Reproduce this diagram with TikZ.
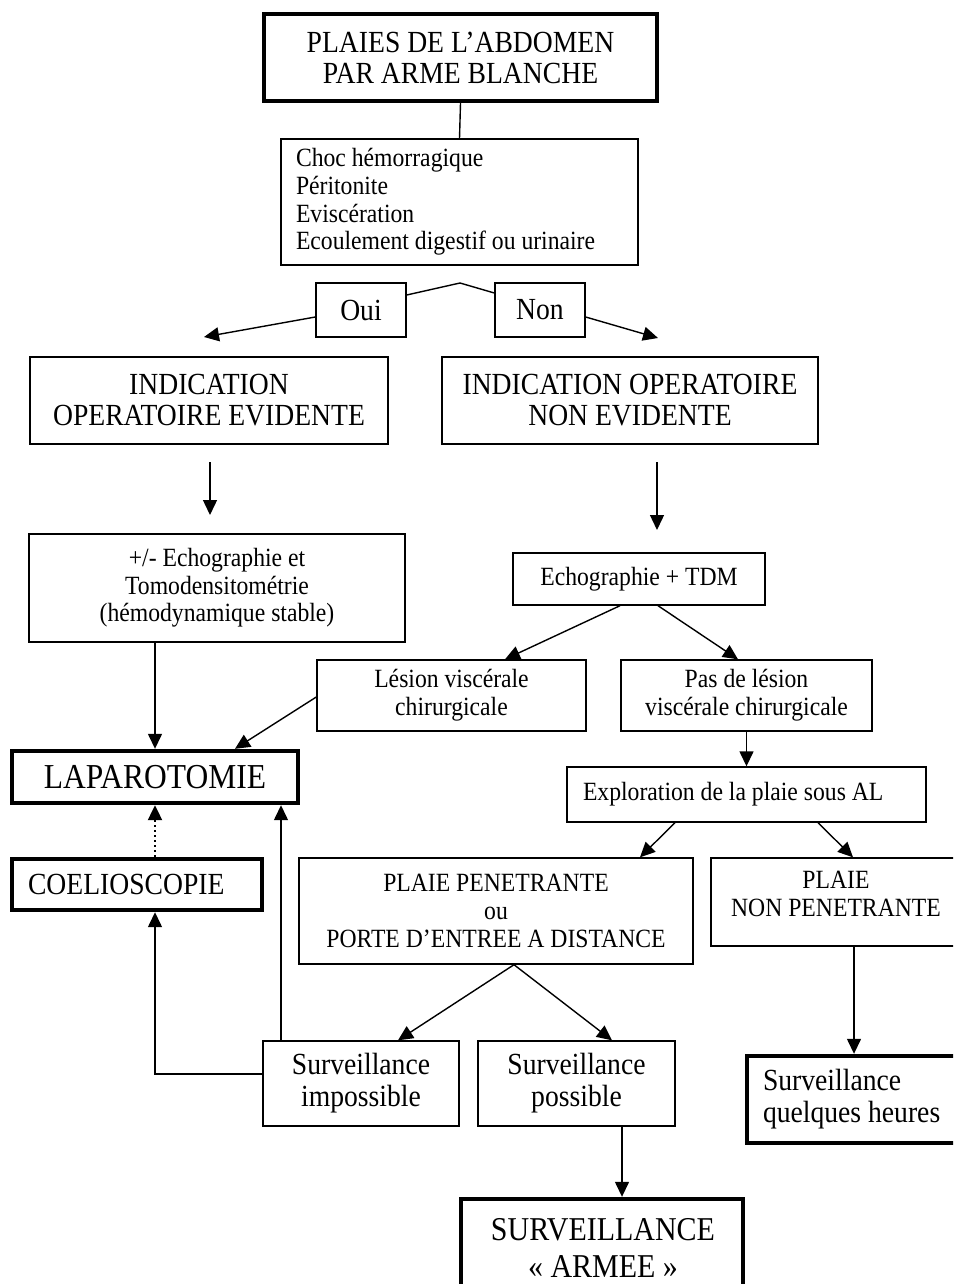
\documentclass[tikz,border=0pt]{standalone}
\usepackage{fontspec}
\setmainfont{Liberation Serif}[FakeStretch=0.9]
\usetikzlibrary{arrows.meta}
\begin{document}
\begin{tikzpicture}[x=1pt,y=-1pt,
  box/.style={draw, line width=1.4pt, inner sep=0pt, align=center},
  heavy/.style={box, line width=4.4pt},
  fbig/.style={font=\fontsize{30.7}{31}\selectfont},
  fsmall/.style={font=\fontsize{26.3}{27.7}\selectfont},
  fsurv/.style={font=\fontsize{30.7}{32}\selectfont},
  flap/.style={font=\fontsize{35}{36}\selectfont},
  farm/.style={font=\fontsize{33.3}{37}\selectfont},
  link/.style={line width=1.4pt},
  arr/.style={line width=1.4pt, -{Triangle[length=15pt,width=14pt]}},
  dotarr/.style={line width=2.2pt, dash pattern=on 2pt off 3pt, -{Triangle[length=15pt,width=14pt]}}]
\useasboundingbox (0,0) rectangle (953,1284);
\clip (0,0) rectangle (953,1284);

% boxes
\node[heavy, fbig, minimum width=393pt, minimum height=87pt] (top) at (460.5,57.5)
  {PLAIES DE L’ABDOMEN\\PAR ARME BLANCHE};
\node[box, fsmall, minimum width=357pt, minimum height=126pt, text width=327pt,
  inner xsep=15pt, align=flush left] (signes) at (459.5,202)
  {Choc hémorragique\\Péritonite\\Eviscération\\Ecoulement digestif ou urinaire};
\node[box, fbig, minimum width=90pt, minimum height=54pt] (oui) at (361,310) {Oui};
\node[box, fbig, minimum width=90pt, minimum height=54pt] (non) at (540,310) {Non};
\node[box, fbig, minimum width=358pt, minimum height=87pt] (inde) at (209,400.5)
  {INDICATION\\OPERATOIRE EVIDENTE};
\node[box, fbig, minimum width=376pt, minimum height=87pt] (indn) at (630,400.5)
  {INDICATION OPERATOIRE\\NON EVIDENTE};
\node[box, fsmall, minimum width=376pt, minimum height=108pt] (echotomo) at (217,588)
  {+/- Echographie et\\Tomodensitométrie\\(hémodynamique stable)};
\node[box, fsmall, minimum width=252pt, minimum height=52pt] (echotdm) at (639,579)
  {Echographie + TDM};
\node[box, fsmall, minimum width=269pt, minimum height=71pt] (lesion) at (451.5,695.5)
  {Lésion viscérale\\chirurgicale};
\node[box, fsmall, minimum width=251pt, minimum height=71pt] (pas) at (746.5,695.5)
  {Pas de lésion\\viscérale chirurgicale};
\node[heavy, flap, minimum width=286pt, minimum height=52pt] (laparo) at (155,777)
  {LAPAROTOMIE};
\node[box, fsmall, minimum width=359pt, minimum height=55pt, text width=327pt,
  inner xsep=16pt, align=flush left] (explo) at (746.5,794.5)
  {Exploration de la plaie sous AL};
\node[heavy, fbig, minimum width=250pt, minimum height=51pt, text width=218pt,
  inner xsep=16pt, align=flush left] (coelio) at (137,884.5) {COELIOSCOPIE};
\node[box, fsmall, minimum width=394pt, minimum height=106pt] (plaiep) at (496,911)
  {PLAIE PENETRANTE\\ou\\PORTE D’ENTREE A DISTANCE};
\node[box, minimum width=250pt, minimum height=88pt] (plaien) at (836,902) {};
\node[fsmall, align=center] (plaientxt) at ([yshift=8pt]plaien.center)
  {PLAIE\\NON PENETRANTE};
\node[box, fsurv, minimum width=196pt, minimum height=85pt] (survi) at (361,1083.5)
  {Surveillance\\impossible};
\node[box, fsurv, minimum width=197pt, minimum height=85pt] (survp) at (576.5,1083.5)
  {Surveillance\\possible};
\node[heavy, fsurv, minimum width=223pt, minimum height=87pt, text width=191pt,
  inner xsep=16pt, align=flush left] (survq) at (858.5,1099.5)
  {Surveillance\\quelques heures};
\node[heavy, minimum width=282pt, minimum height=111pt] (surva) at (602,1254.5) {};
\node[farm, align=center] (survatxt) at (603,1247.5) {SURVEILLANCE\\« ARMEE »};

% free ends
\coordinate (peak) at (460,283);
\coordinate (ouitip) at (204,337);
\coordinate (nontip) at (658,338);
\coordinate (ga) at (210,462);
\coordinate (gb) at (210,515);
\coordinate (da) at (657,462);
\coordinate (db) at (657,530);

% connectors
\draw[link] (top.south) -- (signes.north);
\draw[link] ([yshift=15pt]oui.east) -- (peak) -- ([yshift=17pt]non.west);
\draw[arr] ([yshift=-7pt]oui.west) -- (ouitip);
\draw[arr] ([yshift=-7pt]non.east) -- (nontip);
\draw[arr] (ga) -- (gb);
\draw[arr] (da) -- (db);
\draw[arr] ([xshift=-19pt]echotdm.south) -- ([xshift=53.5pt]lesion.north);
\draw[arr] ([xshift=19pt]echotdm.south) -- ([xshift=-8.5pt]pas.north);
\draw[arr] ([xshift=-62pt]echotomo.south) -- (laparo.north);
\draw[arr] ([yshift=-1.5pt]lesion.west) -- ([xshift=80pt]laparo.north);
\draw[arr] (pas.south) -- (explo.north);
\draw[arr] ([xshift=-71.5pt]explo.south) -- ([xshift=144pt]plaiep.north);
\draw[arr] ([xshift=71.5pt]explo.south) -- ([xshift=17pt]plaien.north);
\draw[arr] ([xshift=18pt]plaiep.south) -- ([xshift=37pt]survi.north);
\draw[arr] ([xshift=18pt]plaiep.south) -- ([xshift=35.5pt]survp.north);
\draw[arr] ([xshift=45.5pt]survp.south) -- ([xshift=20pt]surva.north);
\draw[arr] ([xshift=18pt]plaien.south) -- ([xshift=-4.5pt]survq.north);
\draw[dotarr] ([xshift=18pt]coelio.north) -- (laparo.south);
\draw[arr] ([yshift=9.5pt]survi.west) -| ([xshift=18pt]coelio.south);
\draw[arr] ([xshift=-80pt]survi.north) -- ([xshift=126pt]laparo.south);
\end{tikzpicture}
\end{document}
